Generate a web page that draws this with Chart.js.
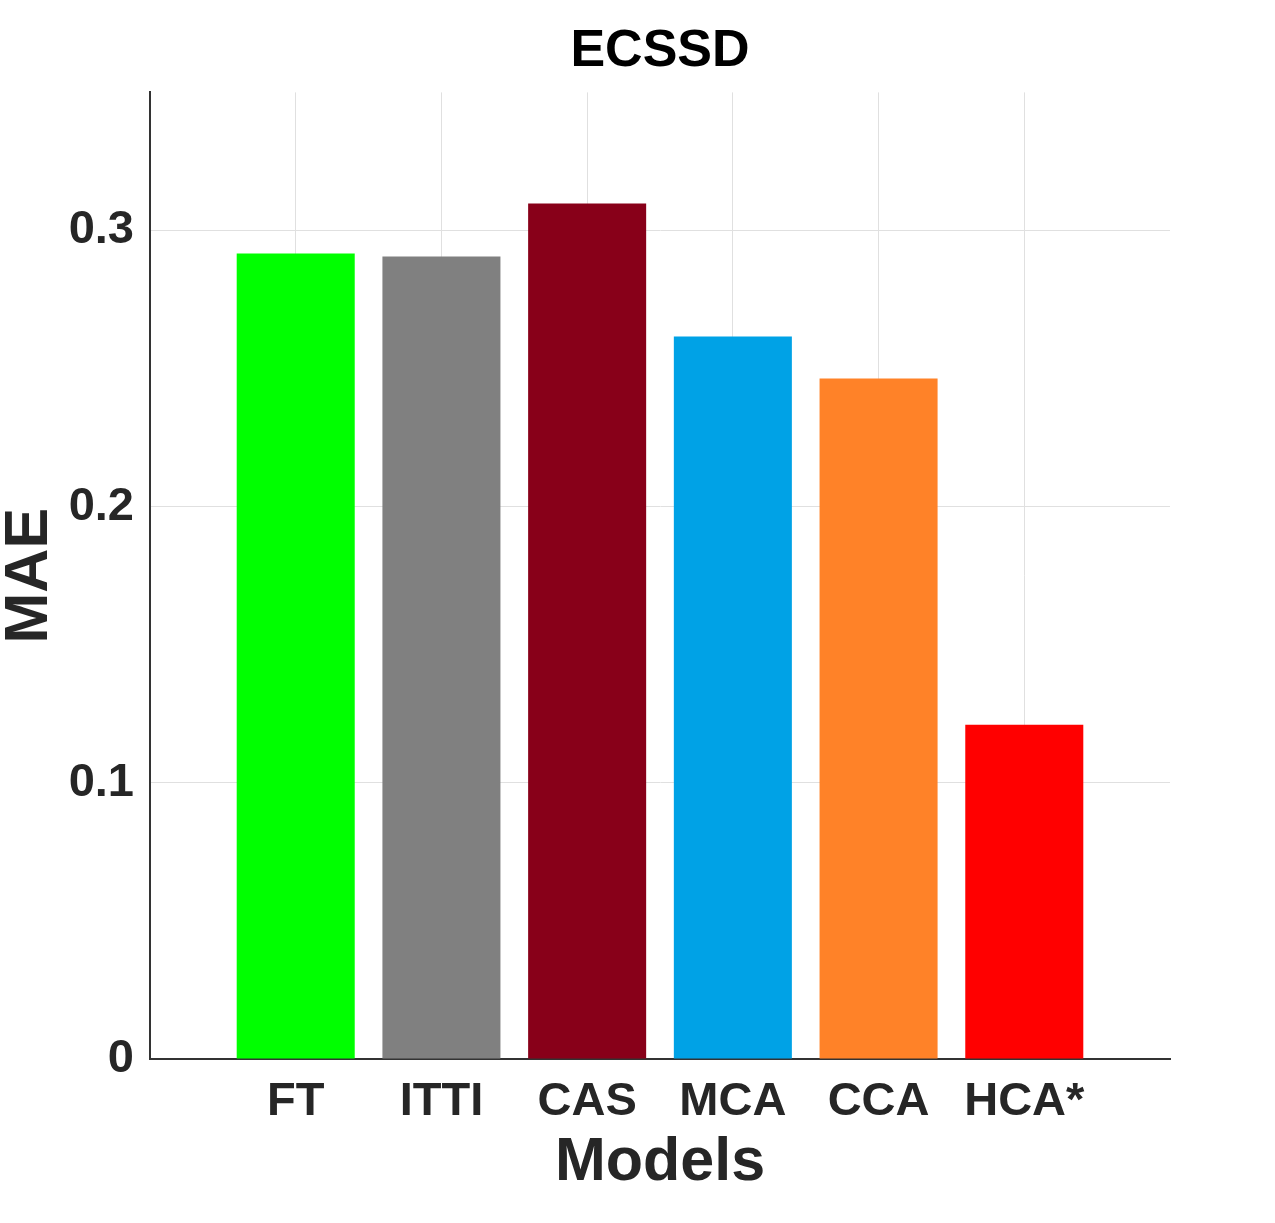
<!DOCTYPE html>
<html>
<head>
<meta charset="utf-8">
<title>ECSSD MAE</title>
<script src="https://cdn.jsdelivr.net/npm/chart.js@4.4.1/dist/chart.umd.min.js"></script>
<style>
  html, body { margin: 0; padding: 0; background: #fff; }
  canvas { display: block; }
</style>
</head>
<body>
<canvas id="maeChart" width="1275" height="1223"></canvas>
<script>
// Data
const models = ['FT', 'ITTI', 'CAS', 'MCA', 'CCA', 'HCA*'];
const maeValues = [0.2917, 0.2906, 0.3098, 0.2616, 0.2464, 0.1210];
const barColors = ['#00ff00', '#808080', '#880019', '#00a2e6', '#ff8228', '#ff0000'];
const yTicks = [0, 0.1, 0.2, 0.3];

// the x axis runs from 0 to 7 with the bars sitting at 1..6, so pad both ends
const labels = [''].concat(models, ['']);
const values = [null].concat(maeValues, [null]);
const colors = ['#fff'].concat(barColors, ['#fff']);

const textColor = '#262626';
const fontFamily = '"Liberation Sans", Arial, Helvetica, sans-serif';

function renderChart() {
    const ctx = document.getElementById('maeChart').getContext('2d');
    new Chart(ctx, {
        type: 'bar',
        data: {
            labels: labels,
            datasets: [{
                label: 'MAE',
                data: values,
                backgroundColor: colors,
                borderWidth: 0,
                categoryPercentage: 1,
                barPercentage: 0.81
            }]
        },
        options: {
            responsive: false,
            animation: false,
            layout: { padding: { left: 0, right: 105, top: 0, bottom: 0 } },
            plugins: {
                legend: { display: false },
                tooltip: { enabled: false },
                title: {
                    display: true,
                    text: 'ECSSD',
                    fullSize: false,
                    color: '#000',
                    font: { family: fontFamily, size: 52, weight: 'bold', lineHeight: 1.2 },
                    padding: { top: 20, bottom: 10 }
                }
            },
            scales: {
                x: {
                    type: 'category',
                    offset: false,
                    grid: {
                        display: true,
                        offset: false,
                        drawTicks: false,
                        color: (c) => (c.index === 0 || c.index === labels.length - 1) ? 'rgba(0,0,0,0)' : '#e0e0e0',
                        lineWidth: 1
                    },
                    border: { display: true, color: '#333', width: 2 },
                    ticks: {
                        color: textColor,
                        padding: 15,
                        maxRotation: 0,
                        autoSkip: false,
                        font: { family: fontFamily, size: 47, weight: 'bold', lineHeight: 1.2 }
                    },
                    title: {
                        display: true,
                        text: 'Models',
                        color: textColor,
                        padding: { top: 0, bottom: 23 },
                        font: { family: fontFamily, size: 61, weight: 'bold', lineHeight: 1.2 }
                    },
                    afterFit: (scale) => { scale.height = 164; }
                },
                y: {
                    min: 0,
                    max: 0.35,
                    afterBuildTicks: (scale) => {
                        scale.ticks = yTicks.map(v => ({ value: v }));
                    },
                    grid: {
                        drawTicks: false,
                        color: (c) => c.tick && c.tick.value === 0 ? 'rgba(0,0,0,0)' : '#e0e0e0',
                        lineWidth: 1
                    },
                    border: { display: true, color: '#333', width: 2 },
                    ticks: {
                        color: textColor,
                        padding: 16,
                        font: { family: fontFamily, size: 47, weight: 'bold', lineHeight: 1.2 },
                        callback: (v) => String(v)
                    },
                    title: {
                        display: true,
                        text: 'MAE',
                        color: textColor,
                        padding: { top: 0, bottom: 0 },
                        font: { family: fontFamily, size: 61, weight: 'bold', lineHeight: 1.0 }
                    },
                    afterFit: (scale) => { scale.width = 150; }
                }
            }
        }
    });
}

document.addEventListener('DOMContentLoaded', renderChart);
</script>
</body>
</html>
